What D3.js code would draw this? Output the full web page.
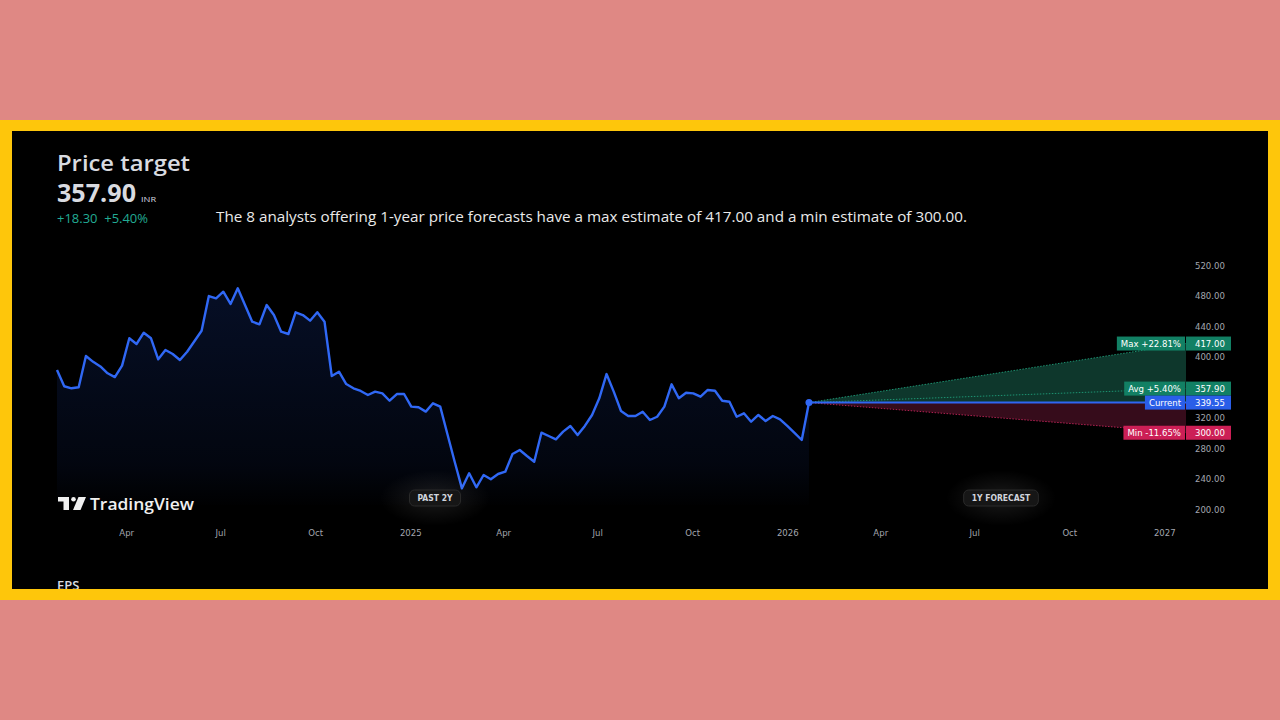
<!DOCTYPE html>
<html><head><meta charset="utf-8">
<script src="https://cdn.jsdelivr.net/npm/d3@7"></script>
<style>html,body{margin:0;padding:0;background:#df8884;} svg{display:block;}</style>
</head><body><svg id="c" width="1280" height="720"></svg>
<script>
// ---------------- DATA ----------------
const startDate = "2024-01-25";          // first weekly close shown
const forecastEndDate = "2027-01-22";    // 1-year forecast horizon
const weeklyPrices = [
  382.3, 361.0, 358.3, 359.6, 400.7, 393.0, 387.0, 378.0, 373.0, 388.0,
  423.9, 416.4, 431.2, 423.9, 396.3, 408.5, 403.3, 395.4, 406.3, 420.0,
  433.8, 479.3, 476.3, 485.0, 468.9, 489.4, 467.5, 445.6, 442.2, 467.5,
  454.4, 432.5, 429.5, 458.0, 454.4, 447.0, 458.0, 445.6, 374.4, 380.1,
  363.9, 358.3, 354.8, 349.5, 353.9, 351.7, 342.0, 350.8, 350.8, 334.2,
  333.4, 327.7, 338.6, 334.2, 298.0, 262.0, 227.1, 246.8, 228.5, 244.6,
  239.0, 245.9, 248.9, 272.1, 277.4, 269.5, 262.0, 300.1, 295.7, 291.4,
  301.4, 308.9, 297.1, 308.9, 323.3, 345.2, 377.0, 353.9, 328.5, 322.0,
  322.0, 327.6, 316.7, 321.0, 334.2, 363.5, 345.2, 352.5, 351.7, 347.3,
  356.1, 355.1, 342.0, 340.7, 321.0, 325.5, 314.5, 323.3, 315.4, 322.0,
  317.6, 308.9, 299.7, 290.5, 339.55
];
const currentPrice = 339.55;
const targetNames  = ["Max", "Avg", "Min"];
const targetValues = [417.00, 357.90, 300.00];
const targetPcts   = ["+22.81%", "+5.40%", "-11.65%"];
const yTickValues  = [200, 240, 280, 320, 400, 440, 480, 520];
const titleText = "Price target";
const headlineValue = "357.90";
const currencyText = "INR";
const changeText = "+18.30  +5.40%";
const descText = "The 8 analysts offering 1-year price forecasts have a max estimate of 417.00 and a min estimate of 300.00.";
const periodLabels = ["PAST 2Y", "1Y FORECAST"];

// ---------------- SETUP ----------------
const svg = d3.select("#c");
const parse = d3.timeParse("%Y-%m-%d");
const t0 = parse(startDate), tEnd = parse(forecastEndDate);
const series = weeklyPrices.map((v, i) => ({date: d3.timeDay.offset(t0, 7 * i), value: v}));
const last = series[series.length - 1];

const x = d3.scaleTime().domain([t0, tEnd]).range([57, 1186]);
const y = d3.scaleLinear().domain([200, 520]).range([509, 265]);

const defs = svg.append("defs");

// frame
svg.append("rect").attr("x",0).attr("y",0).attr("width",1280).attr("height",720).attr("fill","#df8884");
svg.append("rect").attr("x",0).attr("y",120).attr("width",1280).attr("height",480).attr("fill","#fec60b");
svg.append("rect").attr("x",12).attr("y",131).attr("width",1256).attr("height",458).attr("fill","#000000");

const g = svg.append("g");

// ---------------- HEADER ----------------
const txtCol = "#d9dbe0";
function fitText(sel, w) { sel.attr("textLength", w).attr("lengthAdjust", "spacingAndGlyphs"); return sel; }
fitText(g.append("text").attr("x",57).attr("y",171).attr("fill",txtCol)
  .attr("font-family","Open Sans, sans-serif").attr("font-weight",600).attr("font-size",22).text(titleText), 133);
fitText(g.append("text").attr("x",57).attr("y",202).attr("fill",txtCol)
  .attr("font-family","Open Sans, sans-serif").attr("font-weight",700).attr("font-size",25).text(headlineValue), 79);
fitText(g.append("text").attr("x",141).attr("y",202).attr("fill",txtCol)
  .attr("font-family","Open Sans, sans-serif").attr("font-size",8).text(currencyText), 15);
fitText(g.append("text").attr("x",57).attr("y",223).attr("fill","#22ab94")
  .attr("font-family","Open Sans, sans-serif").attr("font-size",12).attr("xml:space","preserve").text(changeText), 91);
fitText(g.append("text").attr("x",216).attr("y",222).attr("fill","#eaeaea")
  .attr("font-family","Open Sans, sans-serif").attr("font-size",14).text(descText), 751);

// ---------------- PRICE AREA + LINE ----------------
const grad = defs.append("linearGradient").attr("id","areaGrad")
  .attr("gradientUnits","userSpaceOnUse").attr("x1",0).attr("x2",0).attr("y1",y(490)).attr("y2",y(200));
grad.append("stop").attr("offset",0).attr("stop-color","#2962ff").attr("stop-opacity",0.15);
grad.append("stop").attr("offset",0.8).attr("stop-color","#2962ff").attr("stop-opacity",0.06);
grad.append("stop").attr("offset",1).attr("stop-color","#2962ff").attr("stop-opacity",0.0);

const area = d3.area().x(d => x(d.date)).y0(y(205)).y1(d => y(d.value));
const line = d3.line().x(d => x(d.date)).y(d => y(d.value));
g.append("path").datum(series).attr("d", area).attr("fill","url(#areaGrad)");

// ---------------- FORECAST ----------------
const fx0 = x(last.date), fx1 = x(tEnd);
const cy = y(currentPrice);
g.append("path").attr("d", d3.line()([[fx0, cy],[fx1, y(targetValues[0])],[fx1, cy]]))
  .attr("fill","#0e372c");
g.append("path").attr("d", d3.line()([[fx0, cy],[fx1, cy],[fx1, y(targetValues[2])]]))
  .attr("fill","#360c1b");
const fColors = ["#1f9e7a", "#1f9e7a", "#c2255a"];
targetValues.forEach((v, i) => {
  g.append("line").attr("x1",fx0).attr("y1",cy).attr("x2",fx1).attr("y2",y(v))
    .attr("stroke",fColors[i]).attr("stroke-width",1).attr("stroke-dasharray","1.5,1.5").attr("opacity",0.9);
});
g.append("line").attr("x1",fx0).attr("y1",cy).attr("x2",fx1).attr("y2",cy)
  .attr("stroke","#2f66f2").attr("stroke-width",2);

g.append("path").datum(series).attr("d", line).attr("fill","none")
  .attr("stroke","#3068f5").attr("stroke-width",2.4).attr("stroke-linejoin","round");
g.append("circle").attr("cx",fx0).attr("cy",cy).attr("r",3.5).attr("fill","#3068f5");

// ---------------- Y AXIS ----------------
const axisCol = "#a3a6ae";
const yAxis = d3.axisRight(y).tickValues(yTickValues).tickFormat(d3.format(".2f")).tickSize(0).tickPadding(0);
const ya = g.append("g").attr("transform","translate(1195,0)").call(yAxis);
ya.select(".domain").remove();
ya.selectAll("text").attr("fill",axisCol).attr("font-family","DejaVu Sans Condensed, DejaVu Sans, sans-serif")
  .attr("font-size",9.5).attr("dy","0.35em");

// ---------------- TAGS ----------------
function tag(val, label, color) {
  const ty = y(val);
  const lt = g.append("text").attr("font-family","DejaVu Sans Condensed, DejaVu Sans, sans-serif").attr("font-size",9.5)
    .attr("fill","#ffffff").attr("text-anchor","end").attr("x",1181).attr("y",ty).attr("dy","0.35em").text(label);
  const w = lt.node().getComputedTextLength();
  g.insert("rect", () => lt.node()).attr("x",1185 - w - 8).attr("y",ty - 7).attr("width",w + 8).attr("height",14).attr("fill",color);
  g.append("rect").attr("x",1186).attr("y",ty - 7).attr("width",45).attr("height",14).attr("fill",color);
  g.append("text").attr("font-family","DejaVu Sans Condensed, DejaVu Sans, sans-serif").attr("font-size",9.5)
    .attr("fill","#ffffff").attr("x",1195).attr("y",ty).attr("dy","0.35em").text(d3.format(".2f")(val));
}
tag(targetValues[0], targetNames[0] + " " + targetPcts[0], "#128064");
tag(targetValues[1], targetNames[1] + " " + targetPcts[1], "#128064");
tag(currentPrice, "Current", "#2a5ee8");
tag(targetValues[2], targetNames[2] + " " + targetPcts[2], "#cc1f56");

// ---------------- X AXIS ----------------
const xTicks = d3.timeMonth.every(3).range(parse("2024-04-01"), parse("2027-01-02"));
const fmt = d => d.getMonth() === 0 ? d3.timeFormat("%Y")(d) : d3.timeFormat("%b")(d);
const xAxis = d3.axisBottom(x).tickValues(xTicks).tickFormat(fmt).tickSize(0).tickPadding(0);
const xa = g.append("g").attr("transform","translate(0,529)").call(xAxis);
xa.select(".domain").remove();
xa.selectAll("text").attr("fill",axisCol).attr("font-family","DejaVu Sans Condensed, DejaVu Sans, sans-serif")
  .attr("font-size",9.5).attr("dy","0.75em");

// ---------------- PILLS ----------------
const glow = defs.append("radialGradient").attr("id","glow");
glow.append("stop").attr("offset",0).attr("stop-color","#ffffff").attr("stop-opacity",0.10);
glow.append("stop").attr("offset",1).attr("stop-color","#ffffff").attr("stop-opacity",0);
function pill(cx, cyy, text) {
  g.append("ellipse").attr("cx",cx).attr("cy",cyy).attr("rx",55).attr("ry",28).attr("fill","url(#glow)");
  const t = g.append("text").attr("x",cx).attr("y",cyy).attr("dy","0.35em").attr("text-anchor","middle")
    .attr("font-family","DejaVu Sans Condensed, DejaVu Sans, sans-serif").attr("font-weight",700).attr("font-size",8.5)
    .attr("fill","#d1d4dc").text(text);
  const w = t.node().getComputedTextLength();
  g.insert("rect", () => t.node()).attr("x",cx - w/2 - 8).attr("y",cyy - 8).attr("width",w + 16).attr("height",16)
    .attr("rx",5).attr("fill","#161616").attr("stroke","#2a2a2a").attr("stroke-width",1);
}
pill(435, 498, periodLabels[0]);
pill(1001, 498, periodLabels[1]);

// ---------------- LOGO ----------------
const logo = g.append("g").attr("fill","#f0f0f0");
logo.append("rect").attr("x",58).attr("y",497).attr("width",11).attr("height",4.5);
logo.append("rect").attr("x",63.5).attr("y",497).attr("width",5.5).attr("height",13);
logo.append("circle").attr("cx",73.5).attr("cy",499.3).attr("r",2.3);
logo.append("path").attr("d","M78.5,497 L86,497 L80.5,510 L73,510 Z");
fitText(g.append("text").attr("x",90).attr("y",509.5).attr("fill","#f0f0f0")
  .attr("font-family","Open Sans, sans-serif").attr("font-weight",600).attr("font-size",17).text("TradingView"), 104);

// ---------------- EPS (cut) ----------------
g.append("text").attr("x",57).attr("y",590).attr("fill",txtCol)
  .attr("font-family","Open Sans, sans-serif").attr("font-size",13).attr("font-weight",600).text("EPS");
// bottom border redrawn over EPS
svg.append("rect").attr("x",0).attr("y",589).attr("width",1280).attr("height",11).attr("fill","#fec60b");
</script></body></html>
